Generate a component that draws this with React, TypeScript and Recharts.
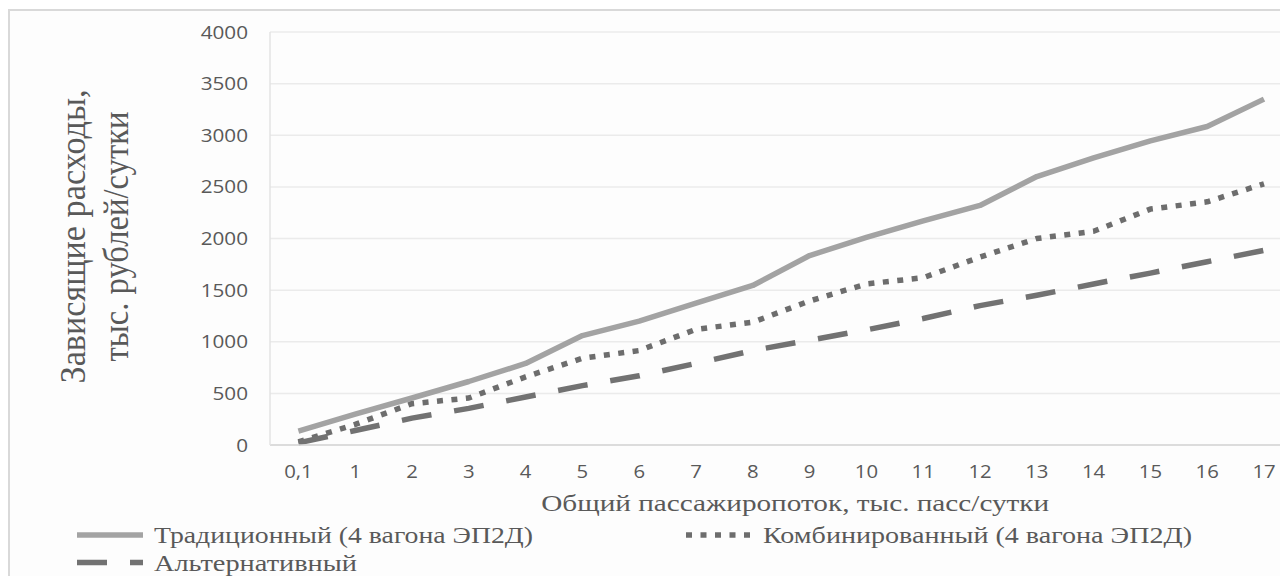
import React from 'react'
import { CartesianGrid, Legend, Line, LineChart, XAxis, YAxis } from 'recharts'

// passenger flow, thousand pass/day
const flows = ['0,1', '1', '2', '3', '4', '5', '6', '7', '8', '9', '10', '11', '12', '13', '14', '15', '16', '17']

// dependent costs, thousand rub/day
const traditional = [135, 300, 455, 615, 790, 1060, 1200, 1375, 1545, 1835, 2010, 2170, 2320, 2600, 2780, 2945, 3085, 3350]
const combined = [30, 200, 400, 455, 660, 840, 915, 1120, 1190, 1395, 1560, 1620, 1820, 2000, 2070, 2285, 2355, 2530]
const alternative = [20, 140, 260, 355, 465, 575, 670, 790, 915, 1015, 1115, 1225, 1350, 1450, 1560, 1665, 1775, 1885]

const yTicks = [0, 500, 1000, 1500, 2000, 2500, 3000, 3500, 4000]

const data = flows.map((flow, i) => ({
  flow,
  traditional: traditional[i],
  combined: combined[i],
  alternative: alternative[i],
}))

const TEXT = '#595959'
const SERIF = '"Liberation Serif", "Times New Roman", serif'
const SANS = '"Open Sans", sans-serif'

const series = [
  { key: 'traditional', name: 'Традиционный (4 вагона ЭП2Д)', color: '#a3a3a3', dash: undefined },
  { key: 'combined', name: 'Комбинированный (4 вагона ЭП2Д)', color: '#6d6d6d', dash: '6 8.5' },
  { key: 'alternative', name: 'Альтернативный', color: '#727272', dash: '30 23' },
]

// legend slots: sample start, row, text width
const legendSlots = [
  { x: 69, row: 0, textWidth: 379 },
  { x: 678, row: 0, textWidth: 429 },
  { x: 69, row: 1, textWidth: 203 },
]

const XTick = ({ x, y, payload }: any) => (
  <text
    transform={`translate(${x},${y + 33}) scale(1.13,1)`}
    textAnchor="middle"
    fontFamily={SANS}
    fontSize={18}
    fill={TEXT}
  >
    {payload.value}
  </text>
)

const YTick = ({ x, y, payload }: any) => (
  <text
    transform={`translate(${x - 22},${y + 6.5}) scale(1.15,1)`}
    textAnchor="end"
    fontFamily={SANS}
    fontSize={18}
    fill={TEXT}
  >
    {payload.value}
  </text>
)

const XTitle = ({ viewBox }: any) => {
  const vb = viewBox || { x: 262, y: 437, width: 1022 }
  return (
    <text
      x={vb.x + vb.width / 2 + 14}
      y={vb.y + 66}
      textAnchor="middle"
      fontFamily={SERIF}
      fontSize={24}
      fill={TEXT}
      textLength={508}
      lengthAdjust="spacingAndGlyphs"
    >
      Общий пассажиропоток, тыс. пасс/сутки
    </text>
  )
}

const YTitle = ({ viewBox }: any) => {
  const vb = viewBox || { x: 0, y: 24, height: 413 }
  const cy = vb.y + vb.height / 2 - 2
  return (
    <g fontFamily={SERIF} fontSize={32} fill={TEXT}>
      <text
        transform={`translate(77,${cy}) rotate(-90) scale(1,1.1)`}
        textAnchor="middle"
        textLength={294}
        lengthAdjust="spacingAndGlyphs"
      >
        Зависящие расходы,
      </text>
      <text
        transform={`translate(120,${cy}) rotate(-90) scale(1,1.1)`}
        textAnchor="middle"
        textLength={250}
        lengthAdjust="spacingAndGlyphs"
      >
        тыс. рублей/сутки
      </text>
    </g>
  )
}

const renderLegend = () => (
  <svg width={1300} height={56}>
    {series.map((s, i) => {
      const slot = legendSlots[i]
      const cy = slot.row === 0 ? 15 : 42.5
      return (
        <g key={s.key}>
          <line
            x1={slot.x}
            x2={slot.x + 66}
            y1={cy}
            y2={cy}
            stroke={s.color}
            strokeWidth={5.5}
            strokeDasharray={s.dash}
          />
          <text
            x={slot.x + 77}
            y={cy + 8}
            fontFamily={SERIF}
            fontSize={24}
            fill={TEXT}
            textLength={slot.textWidth}
            lengthAdjust="spacingAndGlyphs"
          >
            {s.name}
          </text>
        </g>
      )
    })}
  </svg>
)

export default function App() {
  return (
    <div style={{ position: 'relative', width: 1280, height: 568, overflow: 'hidden' }}>
      <div
        style={{
          position: 'absolute',
          left: 0,
          top: 1,
          width: 1320,
          height: 600,
          boxSizing: 'border-box',
          borderLeft: '2px solid #d9d9d9',
          borderTop: '2px solid #d9d9d9',
          background: '#fdfdfd',
        }}
      />
      <div style={{ position: 'absolute', left: 0, top: 0 }}>
        <LineChart width={1300} height={568} data={data} margin={{ top: 24, right: 15.6, left: 0, bottom: 91 }}>
          <CartesianGrid vertical={false} stroke="#ebebeb" strokeWidth={1.5} />
          <XAxis
            dataKey="flow"
            interval={0}
            padding={{ left: 28.4, right: 28.4 }}
            tickLine={false}
            tickSize={0}
            tickMargin={0}
            height={40}
            axisLine={{ stroke: '#d6d6d6', strokeWidth: 1.5 }}
            tick={(props: any) => <XTick {...props} />}
            label={<XTitle />}
          />
          <YAxis
            domain={[0, 4000]}
            ticks={yTicks}
            interval={0}
            tickLine={false}
            tickSize={0}
            tickMargin={0}
            width={262}
            axisLine={{ stroke: '#e3e3e3', strokeWidth: 1.5 }}
            tick={(props: any) => <YTick {...props} />}
            label={<YTitle />}
          />
          <Legend
            layout="horizontal"
            verticalAlign="middle"
            align="center"
            wrapperStyle={{ top: 512, left: 0, width: 1300, height: 56 }}
            content={renderLegend}
          />
          {series.map((s) => (
            <Line
              key={s.key}
              type="linear"
              dataKey={s.key}
              name={s.name}
              stroke={s.color}
              strokeWidth={5.5}
              strokeDasharray={s.dash}
              strokeLinejoin="round"
              dot={false}
              activeDot={false}
              isAnimationActive={false}
            />
          ))}
        </LineChart>
      </div>
    </div>
  )
}
